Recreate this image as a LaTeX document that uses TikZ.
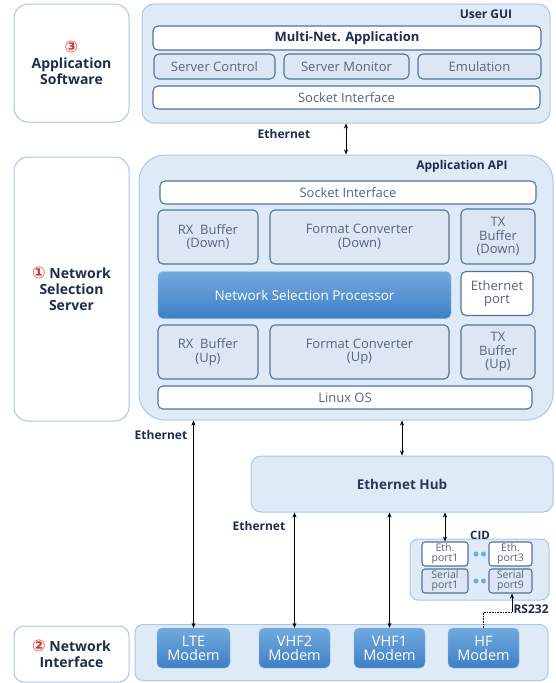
\documentclass[tikz,border=0pt]{standalone}
\usepackage{fontspec}
\setmainfont{Open Sans}
\newfontfamily\numfont{DejaVu Sans}
\usetikzlibrary{arrows.meta}

\definecolor{outline}{HTML}{A9C8E8}
\definecolor{outfill}{HTML}{DEEAF6}
\definecolor{inline}{HTML}{52739A}
\definecolor{infill}{HTML}{DCE7F3}
\definecolor{intext}{HTML}{55657F}
\definecolor{navy}{HTML}{1F2D4D}
\definecolor{modtop}{HTML}{72AADD}
\definecolor{modbot}{HTML}{3F7FC6}
\definecolor{numred}{HTML}{E0302A}

\tikzset{
  outbox/.style={draw=outline, fill=outfill, line width=1pt, rounded corners=12pt},
  sidebox/.style={draw=outline, fill=white, line width=1pt, rounded corners=14pt},
  inbox/.style={draw=inline, fill=infill, line width=1.1pt, rounded corners=5pt,
    text=intext, align=center, font=\fontsize{13}{13.5}\selectfont, inner sep=0pt},
  whitebox/.style={inbox, fill=white},
  bluebox/.style={rounded corners=5pt, top color=modtop, bottom color=modbot,
    draw=modtop!80!white, text=white, align=center, inner sep=0pt,
    font=\fontsize{14.5}{14}\selectfont},
  portbox/.style={inbox, font=\fontsize{10.5}{10.5}\selectfont, rounded corners=3pt},
  boldlbl/.style={text=navy, font=\bfseries\fontsize{12}{13}\selectfont},
  sidelbl/.style={text=navy, align=center, font=\bfseries\fontsize{14}{16}\selectfont},
  biarr/.style={{Stealth[length=5pt,width=4pt]}-{Stealth[length=5pt,width=4pt]}, line width=0.6pt},
  dot/.style={circle, fill=modtop, inner sep=0pt, minimum size=5pt}
}
\newcommand{\rednum}[1]{{\numfont\color{numred}\fontsize{16}{16}\selectfont #1}}

\begin{document}
\begin{tikzpicture}[x=1pt,y=-1pt]
\useasboundingbox (0,0) rectangle (555,683);

% colonne de gauche
\node[sidebox, minimum width=115, minimum height=118] (appsw) at (71.5,63) {};
\node[sidelbl] at (appsw) {\rednum{③}\\Application\\Software};
\node[sidebox, minimum width=115, minimum height=264] (nss) at (71.5,289) {};
\node[sidelbl] at (nss) {\rednum{①} Network\\Selection\\Server};
\node[sidebox, minimum width=115, minimum height=56, rounded corners=10pt] (netif) at (71.5,654) {};
\node[sidelbl] at (netif) {\rednum{②} Network\\Interface};

% User GUI
\node[outbox, minimum width=408, minimum height=119] (gui) at (346,63.5) {};
\node[boldlbl] at (486,14) {User GUI};
\node[whitebox, minimum width=388, minimum height=24, text=navy,
  font=\bfseries\fontsize{13}{14}\selectfont] (multi) at (347,38) {Multi-Net. Application};
\node[inbox, minimum width=121, minimum height=25] (sctrl) at (214.5,66.5) {Server Control};
\node[inbox, minimum width=125, minimum height=25] (smon) at (346.5,66.5) {Server Monitor};
\node[inbox, minimum width=123, minimum height=25] (emu) at (479.5,66.5) {Emulation};
\node[whitebox, minimum width=387, minimum height=23] (sock1) at (346.5,97.5) {Socket Interface};

% Application API
\node[outbox, rounded corners=26pt, minimum width=414, minimum height=265] (api) at (346,287.5) {};
\node[boldlbl] at (462,166) {Application API};
\node[whitebox, minimum width=376, minimum height=23] (sock2) at (348,192.5) {Socket Interface};
\node[inbox, minimum width=100, minimum height=54] (rxd) at (208,237) {RX\ \ Buffer\\(Down)};
\node[inbox, minimum width=179, minimum height=54] (fcd) at (359.5,237) {Format Converter\\(Down)};
\node[inbox, minimum width=74, minimum height=55] (txd) at (498,236.5) {TX\\Buffer\\(Down)};
\node[bluebox, minimum width=293, minimum height=47, font=\fontsize{13.5}{14}\selectfont] (nsp) at (304.5,295) {Network Selection Processor};
\node[whitebox, minimum width=72, minimum height=44] (ethp) at (497,293.5) {Ethernet\\port};
\node[inbox, minimum width=100, minimum height=54] (rxu) at (208,352) {RX\ \ Buffer\\(Up)};
\node[inbox, minimum width=179, minimum height=54] (fcu) at (359.5,352) {Format Converter\\(Up)};
\node[inbox, minimum width=74, minimum height=54] (txu) at (498,352) {TX\\Buffer\\(Up)};
\node[whitebox, minimum width=374, minimum height=23] (linux) at (345,397.5) {Linux OS};

% Ethernet Hub
\node[outbox, rounded corners=10pt, minimum width=302, minimum height=56, text=navy!80!intext,
  font=\bfseries\fontsize{13.5}{14}\selectfont] (hub) at (402,484) {Ethernet Hub};

% CID
\node[outbox, rounded corners=8pt, minimum width=139, minimum height=61] (cid) at (479.5,569.5) {};
\node[boldlbl, font=\bfseries\fontsize{11.5}{12}\selectfont] at (480,535) {CID};
\node[portbox, fill=white, minimum width=46, minimum height=24] (eth1) at (445,554) {Eth.\\port1};
\node[portbox, fill=white, minimum width=43, minimum height=24] (eth3) at (510.5,554) {Eth.\\port3};
\node[portbox, minimum width=46, minimum height=24] (ser1) at (445,581) {Serial\\port1};
\node[portbox, minimum width=43, minimum height=24] (ser9) at (510.5,581) {Serial\\port9};
\node[dot] (d1) at (476,554) {};
\node[dot] (d2) at (483.5,554) {};
\node[dot] (d3) at (476,581) {};
\node[dot] (d4) at (483.5,581) {};

% Network Interface
\node[outbox, rounded corners=8pt, minimum width=413, minimum height=56] (modems) at (341.5,652.5) {};
\node[bluebox, minimum width=73, minimum height=40] (lte) at (193.5,648) {LTE\\Modem};
\node[bluebox, minimum width=71, minimum height=40] (vhf2) at (294.5,648) {VHF2\\Modem};
\node[bluebox, minimum width=71, minimum height=40] (vhf1) at (389.5,648) {VHF1\\Modem};
\node[bluebox, minimum width=71, minimum height=40] (hf) at (483.5,648) {HF\\Modem};

% liaisons
\draw[biarr] (gui.south) -- (api.north);
\node[boldlbl] at (284,134) {Ethernet};
\draw[biarr] (lte.north) -- (lte.north |- api.south);
\node[boldlbl] at (161,435) {Ethernet};
\draw[biarr] (hub.north) -- (hub.north |- api.south);
\draw[biarr] (vhf2.north) -- (vhf2.north |- hub.south);
\node[boldlbl] at (259,526) {Ethernet};
\draw[biarr] (vhf1.north) -- (vhf1.north |- hub.south);
\draw[biarr] (eth1.north) -- (eth1.north |- hub.south);
\coordinate (rs) at (512,612);
\draw[densely dotted, line width=0.6pt] (hf.north) |- (rs);
\draw[-{Stealth[length=5pt,width=4pt]}, line width=0.6pt] (rs) -- (rs |- ser9.south);
\node[boldlbl, anchor=west, font=\bfseries\fontsize{12}{12}\selectfont] at (510,609) {RS232};
\end{tikzpicture}
\end{document}
